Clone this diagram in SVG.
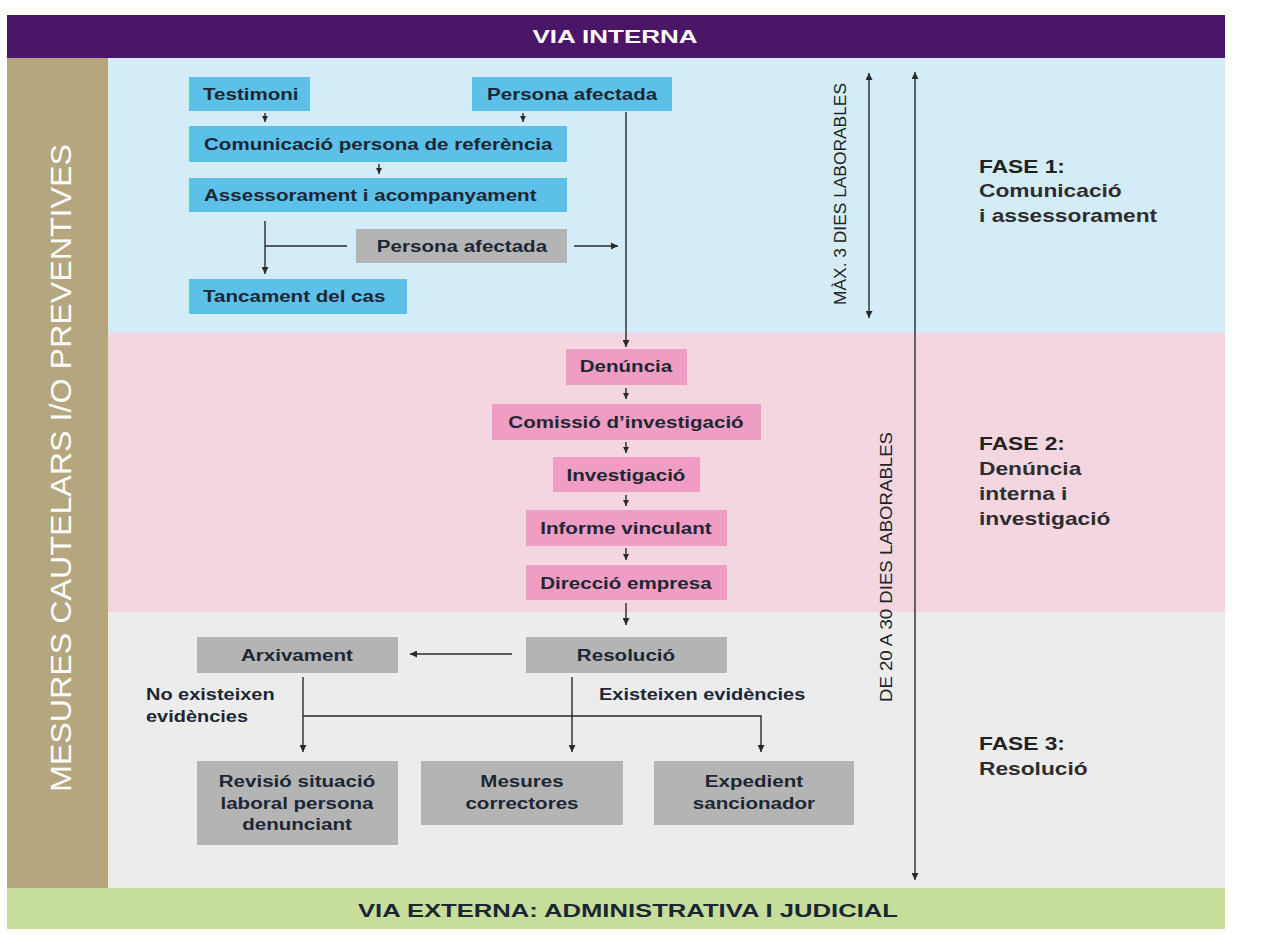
<svg xmlns="http://www.w3.org/2000/svg" width="1278" height="951" viewBox="0 0 1278 951">
<style>
.bx{font-family:"Liberation Sans",Arial,sans-serif;font-weight:bold;font-size:17px;fill:#1d2733;transform-box:fill-box;transform-origin:50% 50%;transform:scaleX(1.21)}
.l{transform-origin:0% 50%}
.c{text-anchor:middle}
.hd{font-family:"Liberation Sans",Arial,sans-serif;font-weight:bold;font-size:18px;text-anchor:middle}
.ln{stroke:#2a2a2a;stroke-width:1.4;fill:none}
.fase{font-family:"Liberation Sans",Arial,sans-serif;font-size:18.5px;fill:#222;font-weight:bold;transform-box:fill-box;transform-origin:0% 50%;transform:scaleX(1.23)}
.sub{fill:#2e2e2e}
.side{font-family:"Liberation Sans",Arial,sans-serif;font-size:17px;fill:#222}
.blue{fill:#5cc0e8}
.pink{fill:#ef9dc2}
.gray{fill:#b4b4b4}
</style>
<defs>
<marker id="a" viewBox="0 0 8 8" refX="8" refY="4" markerWidth="7" markerHeight="7" markerUnits="userSpaceOnUse" orient="auto-start-reverse">
<path d="M0,0 L8,4 L0,8 z" fill="#2a2a2a"/>
</marker>
<marker id="s" viewBox="0 0 8 8" refX="8" refY="4" markerWidth="6" markerHeight="6" markerUnits="userSpaceOnUse" orient="auto">
<path d="M0,0 L8,4 L0,8 z" fill="#2a2a2a"/>
</marker>
</defs>
<rect width="1278" height="951" fill="#ffffff"/>
<!-- bands -->
<g id="bands">
<rect x="7" y="15" width="1218" height="43" fill="#4b1668"/>
<rect x="7" y="58" width="101" height="830" fill="#b6a67f"/>
<rect x="108" y="58" width="1117" height="275" fill="#d4ecf7"/>
<rect x="108" y="333" width="1117" height="279" fill="#f4d6e1"/>
<rect x="108" y="612" width="1117" height="276" fill="#ececec"/>
<rect x="7" y="888" width="1218" height="41" fill="#c6de9a"/>
<text x="615" y="43" class="hd" style="fill:#ffffff" textLength="165" lengthAdjust="spacingAndGlyphs">VIA INTERNA</text>
<text x="628" y="917" class="hd" style="fill:#1d2733" textLength="540" lengthAdjust="spacingAndGlyphs">VIA EXTERNA: ADMINISTRATIVA I JUDICIAL</text>
<text transform="translate(71,468) rotate(-90)" text-anchor="middle" style="font-family:'Liberation Sans',Arial,sans-serif;font-size:29px;fill:#ffffff" textLength="648" lengthAdjust="spacingAndGlyphs">MESURES CAUTELARS I/O PREVENTIVES</text>
</g>
<!-- phase 1 nodes -->
<g id="n-testimoni"><rect x="189" y="77" width="121" height="34" class="blue"/><text x="203" y="100" class="bx l">Testimoni</text></g>
<g id="n-persona-top"><rect x="472" y="77" width="200" height="34" class="blue"/><text x="487" y="100" class="bx l">Persona afectada</text></g>
<g id="n-comunicacio"><rect x="189" y="126" width="378" height="36" class="blue"/><text x="204" y="150" class="bx l">Comunicació persona de referència</text></g>
<g id="n-assessorament"><rect x="189" y="178" width="378" height="34" class="blue"/><text x="204" y="201" class="bx l">Assessorament i acompanyament</text></g>
<g id="n-persona-gray"><rect x="356" y="229" width="211" height="34" class="gray"/><text x="462" y="252" class="bx c">Persona afectada</text></g>
<g id="n-tancament"><rect x="189" y="279" width="218" height="35" class="blue"/><text x="203" y="302" class="bx l">Tancament del cas</text></g>
<!-- phase 2 nodes -->
<g id="n-denuncia"><rect x="566" y="349" width="121" height="36" class="pink"/><text x="626" y="372" class="bx c">Denúncia</text></g>
<g id="n-comissio"><rect x="492" y="404" width="269" height="36" class="pink"/><text x="626" y="428" class="bx c">Comissió d’investigació</text></g>
<g id="n-investigacio"><rect x="553" y="457" width="147" height="35" class="pink"/><text x="626" y="481" class="bx c">Investigació</text></g>
<g id="n-informe"><rect x="526" y="510" width="201" height="36" class="pink"/><text x="626" y="534" class="bx c">Informe vinculant</text></g>
<g id="n-direccio"><rect x="526" y="565" width="201" height="35" class="pink"/><text x="626" y="589" class="bx c">Direcció empresa</text></g>
<!-- phase 3 nodes -->
<g id="n-arxivament"><rect x="197" y="637" width="201" height="36" class="gray"/><text x="297" y="661" class="bx c">Arxivament</text></g>
<g id="n-resolucio"><rect x="526" y="637" width="201" height="36" class="gray"/><text x="626" y="661" class="bx c">Resolució</text></g>
<g id="n-revisio"><rect x="197" y="761" width="201" height="84" class="gray"/><text class="bx c"><tspan x="297" y="787">Revisió situació</tspan><tspan x="297" y="809">laboral persona</tspan><tspan x="297" y="830">denunciant</tspan></text></g>
<g id="n-mesures"><rect x="421" y="761" width="202" height="64" class="gray"/><text class="bx c"><tspan x="522" y="787">Mesures</tspan><tspan x="522" y="809">correctores</tspan></text></g>
<g id="n-expedient"><rect x="654" y="761" width="200" height="64" class="gray"/><text class="bx c"><tspan x="754" y="787">Expedient</tspan><tspan x="754" y="809">sancionador</tspan></text></g>
<!-- phase labels -->
<g id="fase1"><text class="fase"><tspan x="979" y="173">FASE 1:</tspan><tspan x="979" y="197" class="sub">Comunicació</tspan><tspan x="979" y="222" class="sub">i assessorament</tspan></text></g>
<g id="fase2"><text class="fase"><tspan x="979" y="450">FASE 2:</tspan><tspan x="979" y="475" class="sub">Denúncia</tspan><tspan x="979" y="500" class="sub">interna i</tspan><tspan x="979" y="525" class="sub">investigació</tspan></text></g>
<g id="fase3"><text class="fase"><tspan x="979" y="750">FASE 3:</tspan><tspan x="979" y="775" class="sub">Resolució</tspan></text></g>
<!-- durations -->
<g id="dur1"><text transform="translate(846,194) rotate(-90)" text-anchor="middle" class="side" textLength="222" lengthAdjust="spacingAndGlyphs">MÀX. 3 DIES LABORABLES</text></g>
<g id="dur2"><text transform="translate(892,567) rotate(-90)" text-anchor="middle" class="side" textLength="270" lengthAdjust="spacingAndGlyphs">DE 20 A 30 DIES LABORABLES</text></g>
<!-- connectors -->
<g id="connectors">
<line x1="265" y1="113" x2="265" y2="122" class="ln" marker-end="url(#s)"/>
<line x1="523" y1="113" x2="523" y2="122" class="ln" marker-end="url(#s)"/>
<line x1="379" y1="164" x2="379" y2="174" class="ln" marker-end="url(#s)"/>
<path d="M265,221 V274" class="ln" marker-end="url(#a)"/>
<path d="M265,246 H347" class="ln"/>
<path d="M574,246 H618" class="ln" marker-end="url(#a)"/>
<path d="M626,112 V347" class="ln" marker-end="url(#a)"/>
<line x1="626" y1="388" x2="626" y2="399" class="ln" marker-end="url(#s)"/>
<line x1="626" y1="442" x2="626" y2="453" class="ln" marker-end="url(#s)"/>
<line x1="626" y1="495" x2="626" y2="506" class="ln" marker-end="url(#s)"/>
<line x1="626" y1="548" x2="626" y2="560" class="ln" marker-end="url(#s)"/>
<path d="M626,603 V625" class="ln" marker-end="url(#a)"/>
<path d="M512,654 H410" class="ln" marker-end="url(#a)"/>
<path d="M303,677 V752" class="ln" marker-end="url(#a)"/>
<path d="M572,677 V752" class="ln" marker-end="url(#a)"/>
<path d="M303,716 H761 V752" class="ln" marker-end="url(#a)"/>
<path d="M869,73 V318" class="ln" marker-start="url(#a)" marker-end="url(#a)"/>
<path d="M915,72 V880" class="ln" marker-start="url(#a)" marker-end="url(#a)"/>
<text x="146" y="700" class="bx l" style="font-size:16.5px">No existeixen</text>
<text x="146" y="722" class="bx l" style="font-size:16.5px">evidències</text>
<text x="599" y="700" class="bx l" style="font-size:16.5px">Existeixen evidències</text>
</g>
</svg>
